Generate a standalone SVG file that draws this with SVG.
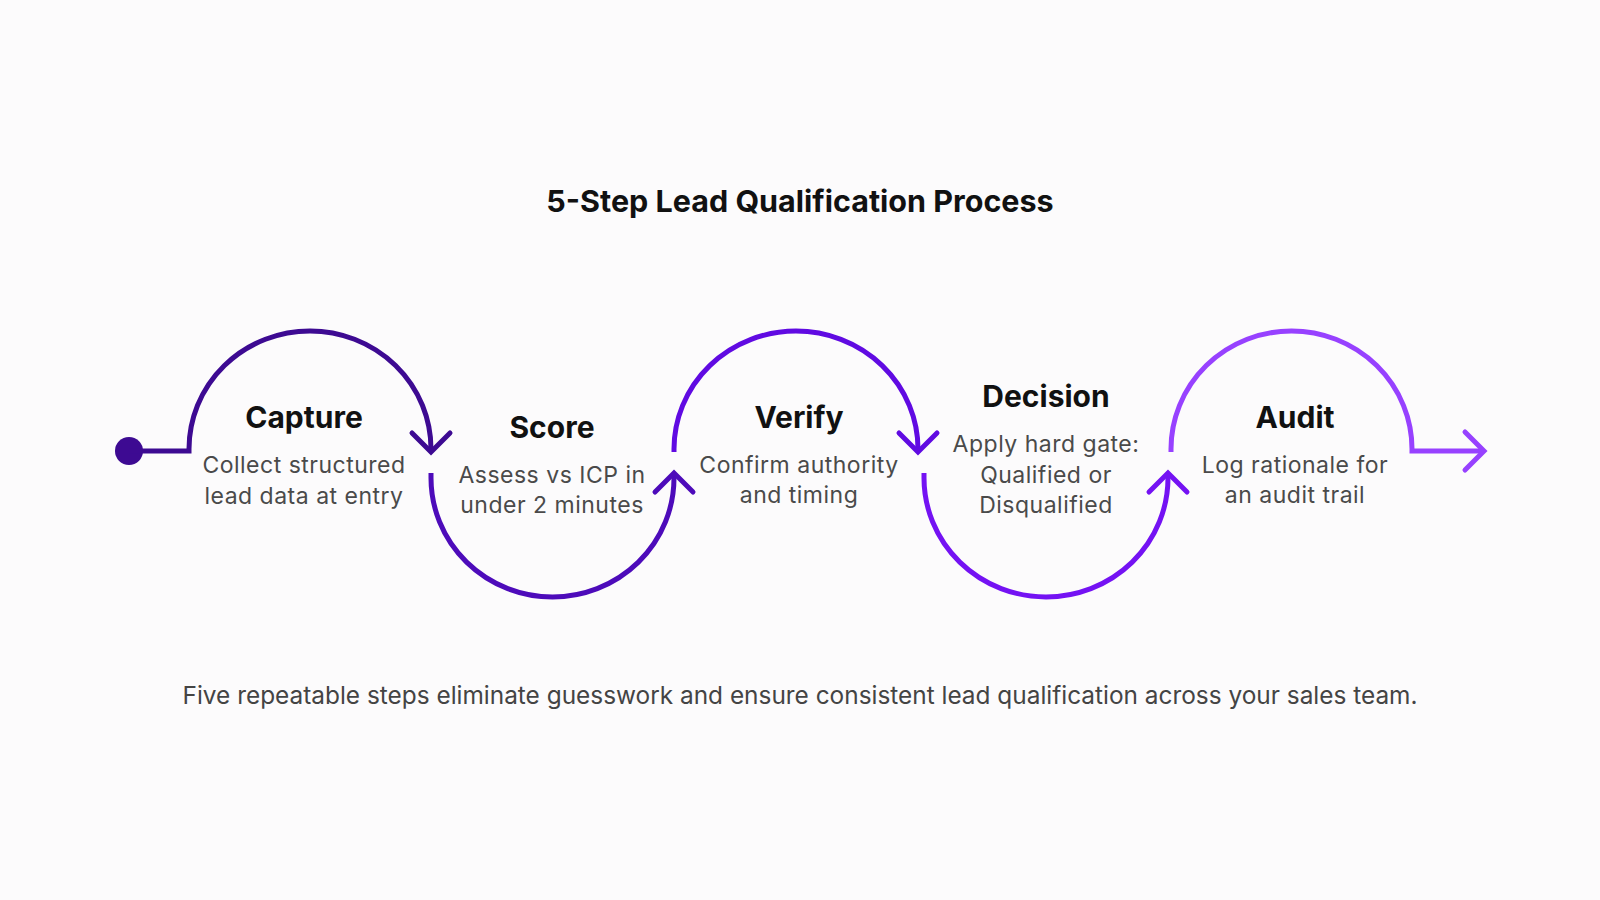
<svg xmlns="http://www.w3.org/2000/svg" width="1600" height="900" viewBox="0 0 1600 900">
  <style>
    .title { font-family: Inter, "Liberation Sans", sans-serif; font-weight: 700; font-size: 30.5px; fill: #111111; }
    .step { font-family: Inter, "Liberation Sans", sans-serif; font-weight: 700; font-size: 30px; fill: #111111; text-anchor: middle; }
    .desc { font-family: Inter, "Liberation Sans", sans-serif; font-weight: 400; font-size: 23px; letter-spacing: 0.5px; fill: #4a4a4a; text-anchor: middle; }
    .foot { font-family: Inter, "Liberation Sans", sans-serif; font-weight: 400; font-size: 24.4px; fill: #444444; text-anchor: middle; }
    .conn { fill: none; stroke-width: 5; stroke-linejoin: miter; }
    .chev { fill: none; stroke-width: 5; stroke-linecap: round; stroke-linejoin: miter; }
  </style>
  <defs>
    <marker id="m1" viewBox="-25 -25 50 50" markerWidth="50" markerHeight="50" refX="0" refY="0" orient="auto" markerUnits="userSpaceOnUse">
      <path class="chev" d="M-19,-19 L0,0 L-19,19" stroke="#3d0a92"/>
    </marker>
    <marker id="m2" viewBox="-25 -25 50 50" markerWidth="50" markerHeight="50" refX="0" refY="0" orient="auto" markerUnits="userSpaceOnUse">
      <path class="chev" d="M-19,-19 L0,0 L-19,19" stroke="#4d0bba"/>
    </marker>
    <marker id="m3" viewBox="-25 -25 50 50" markerWidth="50" markerHeight="50" refX="0" refY="0" orient="auto" markerUnits="userSpaceOnUse">
      <path class="chev" d="M-19,-19 L0,0 L-19,19" stroke="#600ae2"/>
    </marker>
    <marker id="m4" viewBox="-25 -25 50 50" markerWidth="50" markerHeight="50" refX="0" refY="0" orient="auto" markerUnits="userSpaceOnUse">
      <path class="chev" d="M-19,-19 L0,0 L-19,19" stroke="#7412f3"/>
    </marker>
    <marker id="m5" viewBox="-25 -25 50 50" markerWidth="50" markerHeight="50" refX="0" refY="0" orient="auto" markerUnits="userSpaceOnUse">
      <path class="chev" d="M-19,-19 L0,0 L-19,19" stroke="#9741ff"/>
    </marker>
  </defs>
  <rect width="1600" height="900" fill="#fcfbfc"/>
  <text class="title" x="800" y="212" text-anchor="middle">5-Step Lead Qualification Process</text>

  <g id="connectors">
    <circle cx="129" cy="451" r="14" fill="#3d0a92"/>
    <path class="conn" stroke="#3d0a92" d="M129,451 H189 V449 A121,118 0 0 1 431,449 V452" marker-end="url(#m1)"/>
    <path class="conn" stroke="#4d0bba" d="M431,473 V478 A121.5,119 0 0 0 674,478 V473" marker-end="url(#m2)"/>
    <path class="conn" stroke="#600ae2" d="M674,452 V449 A122,118 0 0 1 918,449 V452" marker-end="url(#m3)"/>
    <path class="conn" stroke="#7412f3" d="M924,473 V478 A122,119 0 0 0 1168,478 V473" marker-end="url(#m4)"/>
    <path class="conn" stroke="#9741ff" d="M1171,452 V449 A120.5,118 0 0 1 1412,449 V451 H1484" marker-end="url(#m5)"/>
  </g>

  <g id="step-capture">
    <text class="step" x="304" y="428">Capture</text>
    <text class="desc" x="304" y="473">Collect structured</text>
    <text class="desc" x="304" y="504">lead data at entry</text>
  </g>
  <g id="step-score">
    <text class="step" x="552" y="438">Score</text>
    <text class="desc" x="552" y="483">Assess vs ICP in</text>
    <text class="desc" x="552" y="513">under 2 minutes</text>
  </g>
  <g id="step-verify">
    <text class="step" x="799" y="428">Verify</text>
    <text class="desc" x="799" y="473">Confirm authority</text>
    <text class="desc" x="799" y="503">and timing</text>
  </g>
  <g id="step-decision">
    <text class="step" x="1046" y="407">Decision</text>
    <text class="desc" x="1046" y="452">Apply hard gate:</text>
    <text class="desc" x="1046" y="483">Qualified or</text>
    <text class="desc" x="1046" y="513">Disqualified</text>
  </g>
  <g id="step-audit">
    <text class="step" x="1295" y="428">Audit</text>
    <text class="desc" x="1295" y="473">Log rationale for</text>
    <text class="desc" x="1295" y="503">an audit trail</text>
  </g>

  <text class="foot" x="800" y="704">Five repeatable steps eliminate guesswork and ensure consistent lead qualification across your sales team.</text>
</svg>
